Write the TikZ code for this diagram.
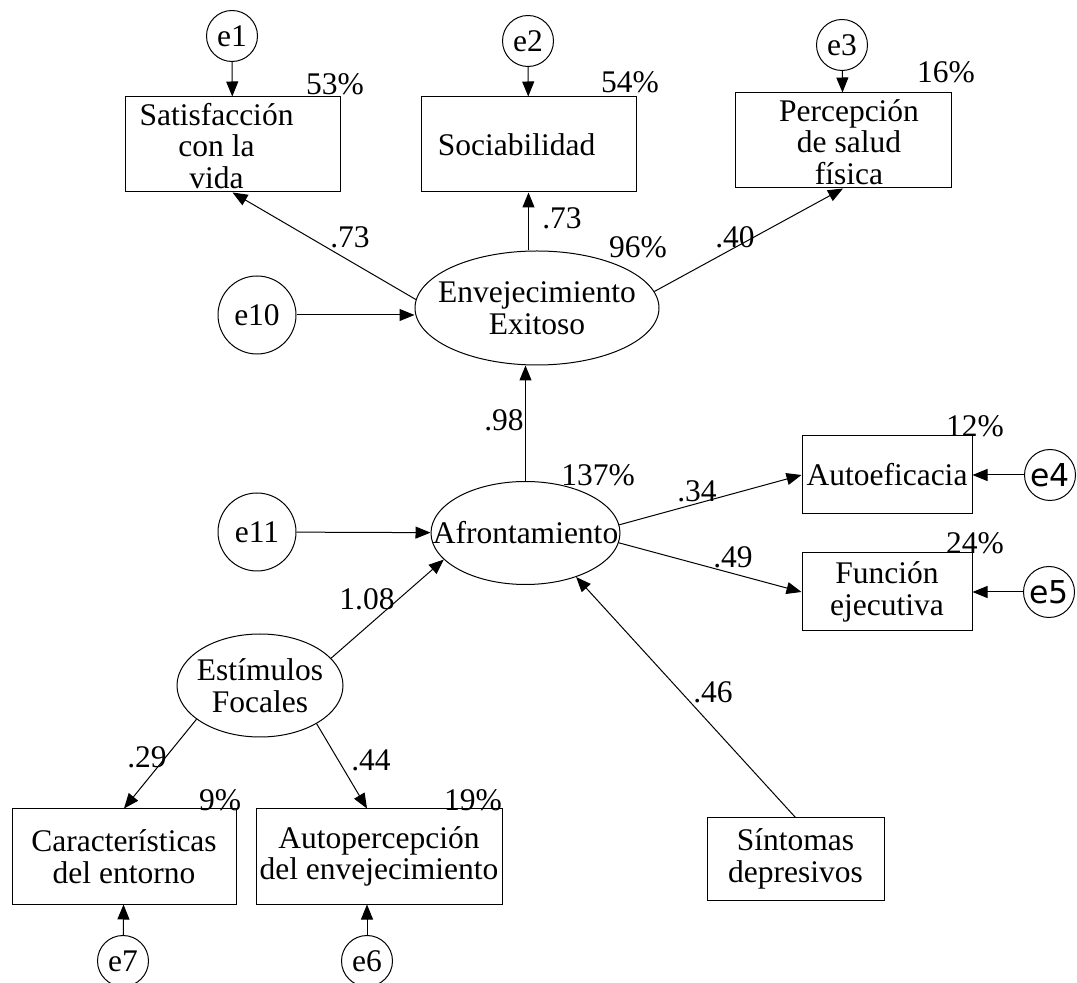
\documentclass[tikz,border=0pt]{standalone}
\usepackage{fontspec}
\setmainfont{Liberation Serif}
\newfontfamily\esans{DejaVu Sans}
\usetikzlibrary{shapes.geometric, arrows.meta}

\newcommand{\nowidth}[1]{\makebox[0pt]{#1}}
\newcommand{\stack}[1]{\raisebox{-6.5pt}[0pt][0pt]{\begin{tabular}{@{}c@{}}#1\end{tabular}}}

\tikzset{
    obs/.style={draw, rectangle, inner sep=0pt, align=center, line width=0.5pt},
    lat/.style={draw, ellipse, inner sep=0pt, align=center, line width=0.5pt},
    err/.style={draw, circle, inner sep=0pt, minimum size=25.5pt, line width=0.5pt},
    bigerr/.style={err, minimum size=39pt},
    num/.style={inner sep=0pt},
    reg/.style={-{Triangle[length=7.5pt, width=6pt]}, line width=0.5pt}
}

\begin{document}
\begin{tikzpicture}[x=0.5pt, y=-0.5pt, font=\fontsize{15.75}{15.75}\selectfont]
    \useasboundingbox (0, 0) rectangle (1077, 983);

    \node[err] at (232, 36) (e1) {e1};
    \node[err] at (528, 41) (e2) {e2};
    \node[err] at (842, 45) (e3) {e3};

    \node[obs, minimum width=107.5pt, minimum height=47.5pt] at (232.5, 144.5) (sat) {\stack{Satisfacción\\con la\\vida}\hspace*{16pt}};
    \node[obs, minimum width=107.5pt, minimum height=47.5pt] at (528.5, 144.5) (soc) {\raisebox{-2.5pt}{Sociabilidad}\hspace*{12pt}};
    \node[obs, minimum width=108pt, minimum height=47.5pt] at (843, 140.5) (per) {\hspace*{6pt}\stack{Percepción\\de salud\\física}};

    \node[num] at (335, 84) (p53) {53\%};
    \node[num] at (630, 82) (p54) {54\%};
    \node[num] at (946, 72) (p16) {16\%};

    \node[lat, minimum width=122pt, minimum height=57pt] at (537, 308) (env) {\nowidth{Envejecimiento}\\\nowidth{Exitoso}};
    \node[bigerr] at (257, 315) (e10) {e10};

    \node[num] at (638, 247) (p96) {96\%};
    \node[num] at (350, 237) (c73a) {.73};
    \node[num] at (562, 218) (c73b) {.73};
    \node[num] at (735, 237) (c40) {.40};

    \node[lat, minimum width=94.5pt, minimum height=51.5pt] at (525.5, 533) (afr) {\nowidth{Afrontamiento}};
    \node[bigerr] at (257, 532) (e11) {e11};

    \node[num] at (504, 420) (c98) {.98};
    \node[num] at (598, 475) (p137) {137\%};

    \node[obs, minimum width=85pt, minimum height=39pt] at (887, 475) (aut) {Autoeficacia};
    \node[obs, minimum width=85pt, minimum height=39pt] at (887, 592) (fun) {Función\\ejecutiva};
    \node[err] at (1050, 475) (e4) {\esans e4};
    \node[err] at (1049, 592) (e5) {\esans e5};

    \node[num] at (697, 491) (c34) {.34};
    \node[num] at (733, 557) (c49) {.49};
    \node[num] at (975, 426) (p12) {12\%};
    \node[num] at (975, 543) (p24) {24\%};

    \node[lat, minimum width=83pt, minimum height=51.5pt] at (260, 685.5) (est) {\nowidth{Estímulos}\\\nowidth{Focales}};
    \node[obs, minimum width=88.5pt, minimum height=41pt] at (795.5, 859) (sin) {Síntomas\\depresivos};

    \node[num] at (367, 599) (c108) {1.08};
    \node[num] at (713, 692) (c46) {.46};

    \node[obs, minimum width=112pt, minimum height=47.5pt] at (124, 856.5) (car) {Características\\del entorno};
    \node[obs, minimum width=123pt, minimum height=47.5pt] at (379, 856.5) (aup) {Autopercepción\\del envejecimiento};
    \node[err] at (123, 961) (e7) {e7};
    \node[err] at (367, 961) (e6) {e6};

    \node[num] at (147, 757) (c29) {.29};
    \node[num] at (371, 760) (c44) {.44};
    \node[num] at (220, 800) (p9) {9\%};
    \node[num] at (473, 800) (p19) {19\%};

    \draw[reg] (e1) -- (sat);
    \draw[reg] (e2) -- (soc);
    \draw[reg] (e3) -- (per);

    \draw[reg] (env.176) -- (sat.south);
    \draw[reg] (soc.south |- env.north) -- (soc.south);
    \draw[reg] (env.8) -- (per.south);
    \draw[reg] (e10) -- (e10 -| env.west);

    \draw[reg] (afr.north) -- (afr.north |- env.south);
    \draw[reg] (e11) -- (afr);
    \draw[reg] (afr.5) -- (aut.west);
    \draw[reg] (afr.-6) -- (fun.west);
    \draw[reg] (e4) -- (aut);
    \draw[reg] (e5) -- (fun);

    \draw[reg] (est.21) -- (afr.198);
    \draw[reg] (sin.north) -- (afr.-41);
    \draw[reg] (est.208) -- (car.north);
    \draw[reg] (est.326) -- (e6 |- aup.north);
    \draw[reg] (e7) -- (car);
    \draw[reg] (e6) -- (e6 |- aup.south);
\end{tikzpicture}
\end{document}
